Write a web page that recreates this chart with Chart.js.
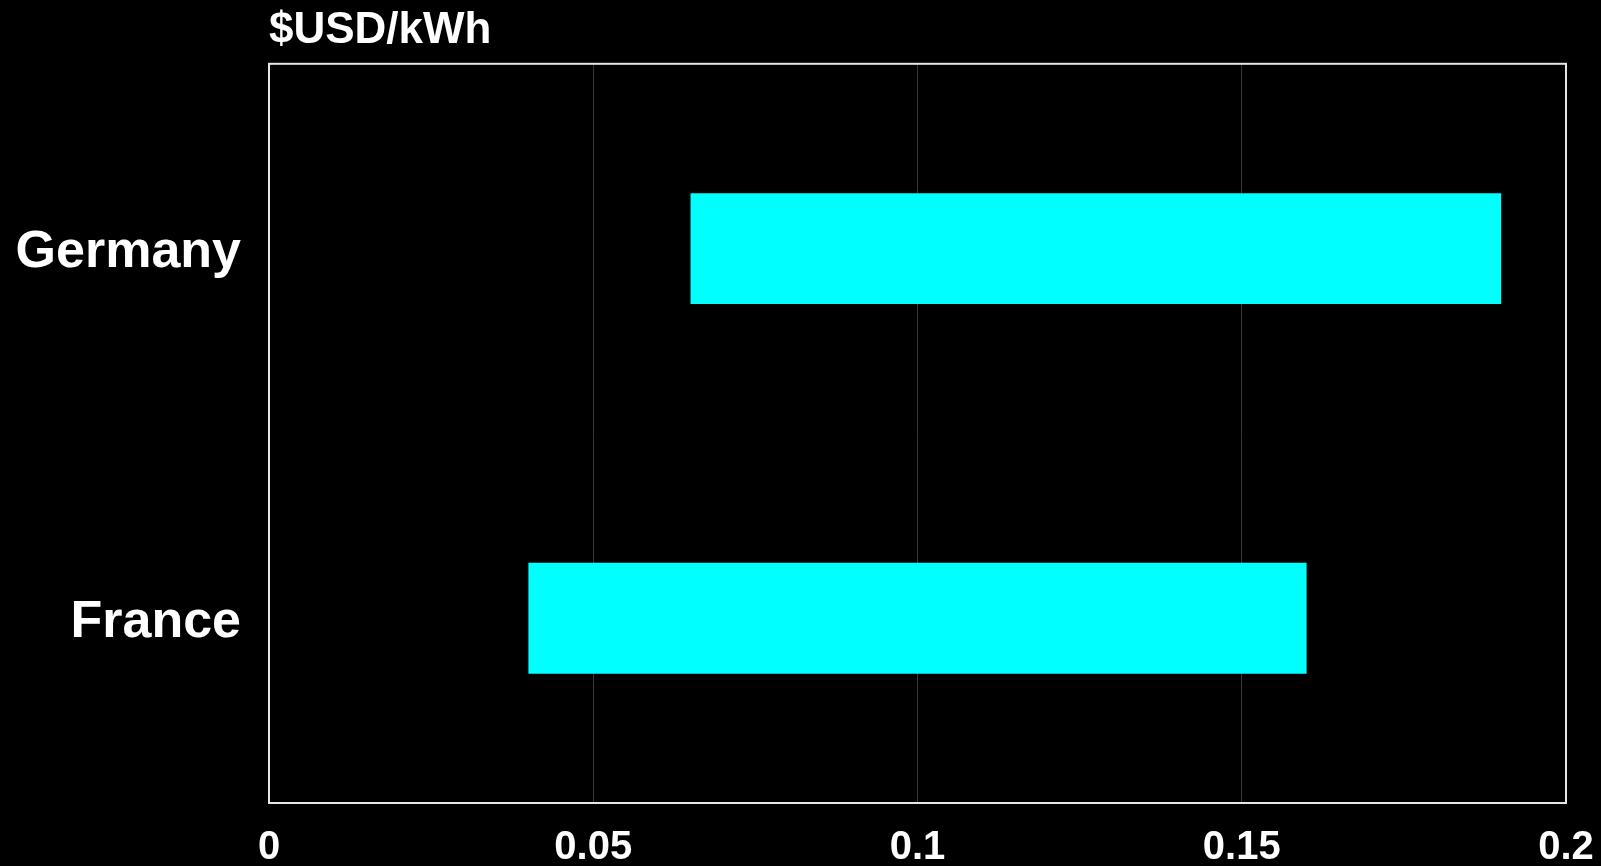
<!DOCTYPE html>
<html>
<head>
<meta charset="utf-8">
<script src="https://cdn.jsdelivr.net/npm/chart.js@4.4.1/dist/chart.umd.min.js"></script>
<style>
  html, body { margin: 0; padding: 0; background: #000; }
  #wrap { width: 1601px; height: 866px; position: relative; }
</style>
</head>
<body>
<div id="wrap"><canvas id="chart"></canvas></div>
<script>
const countries = ["Germany", "France"];
const lowCost = [0.065, 0.04];
const highCost = [0.19, 0.16];
const xTicks = [0, 0.05, 0.1, 0.15, 0.2];
const unitLabel = "$USD/kWh";

const FONT = "'Liberation Sans', Arial, sans-serif";

// white frame round the plot area
const frame = {
  id: "frame",
  afterDraw(chart) {
    const a = chart.chartArea;
    const c = chart.ctx;
    c.save();
    c.strokeStyle = "#e6e6e6";
    c.lineWidth = 2;
    c.strokeRect(a.left, a.top, a.right - a.left, a.bottom - a.top);
    c.restore();
  }
};

const ctx = document.getElementById("chart");

new Chart(ctx, {
  type: "bar",
  data: {
    labels: countries,
    datasets: [{
      data: countries.map((c, i) => [lowCost[i], highCost[i]]),
      backgroundColor: "#00ffff",
      borderWidth: 0,
      barPercentage: 0.3,
      categoryPercentage: 1
    }]
  },
  options: {
    indexAxis: "y",
    responsive: true,
    maintainAspectRatio: false,
    animation: false,
    layout: { padding: { left: 0, right: 35, top: 0, bottom: 0 } },
    plugins: {
      legend: { display: false },
      tooltip: { enabled: false },
      title: {
        display: true,
        text: unitLabel,
        align: "start",
        fullSize: false,
        color: "#fff",
        font: { family: FONT, size: 44, weight: "bold" },
        padding: { top: 4, bottom: 7 }
      }
    },
    scales: {
      x: {
        min: 0,
        max: 0.2,
        afterBuildTicks: (scale) => {
          scale.ticks = xTicks.map(v => ({ value: v }));
        },
        afterFit: (scale) => {
          scale.height = 63;
          scale.paddingLeft = 0;
          scale.paddingRight = 0;
        },
        grid: {
          color: "#363636",
          lineWidth: 1,
          drawTicks: false
        },
        border: { display: false },
        ticks: {
          color: "#fff",
          padding: 21,
          font: { family: FONT, size: 40, weight: "bold" },
          callback: (v) => String(v)
        }
      },
      y: {
        afterFit: (scale) => { scale.width = 269; },
        grid: { display: false, drawTicks: false },
        border: { display: false },
        ticks: {
          color: "#fff",
          padding: 28,
          labelOffset: 4,
          font: { family: FONT, size: 52, weight: "bold" }
        }
      }
    }
  },
  plugins: [frame]
});
</script>
</body>
</html>
